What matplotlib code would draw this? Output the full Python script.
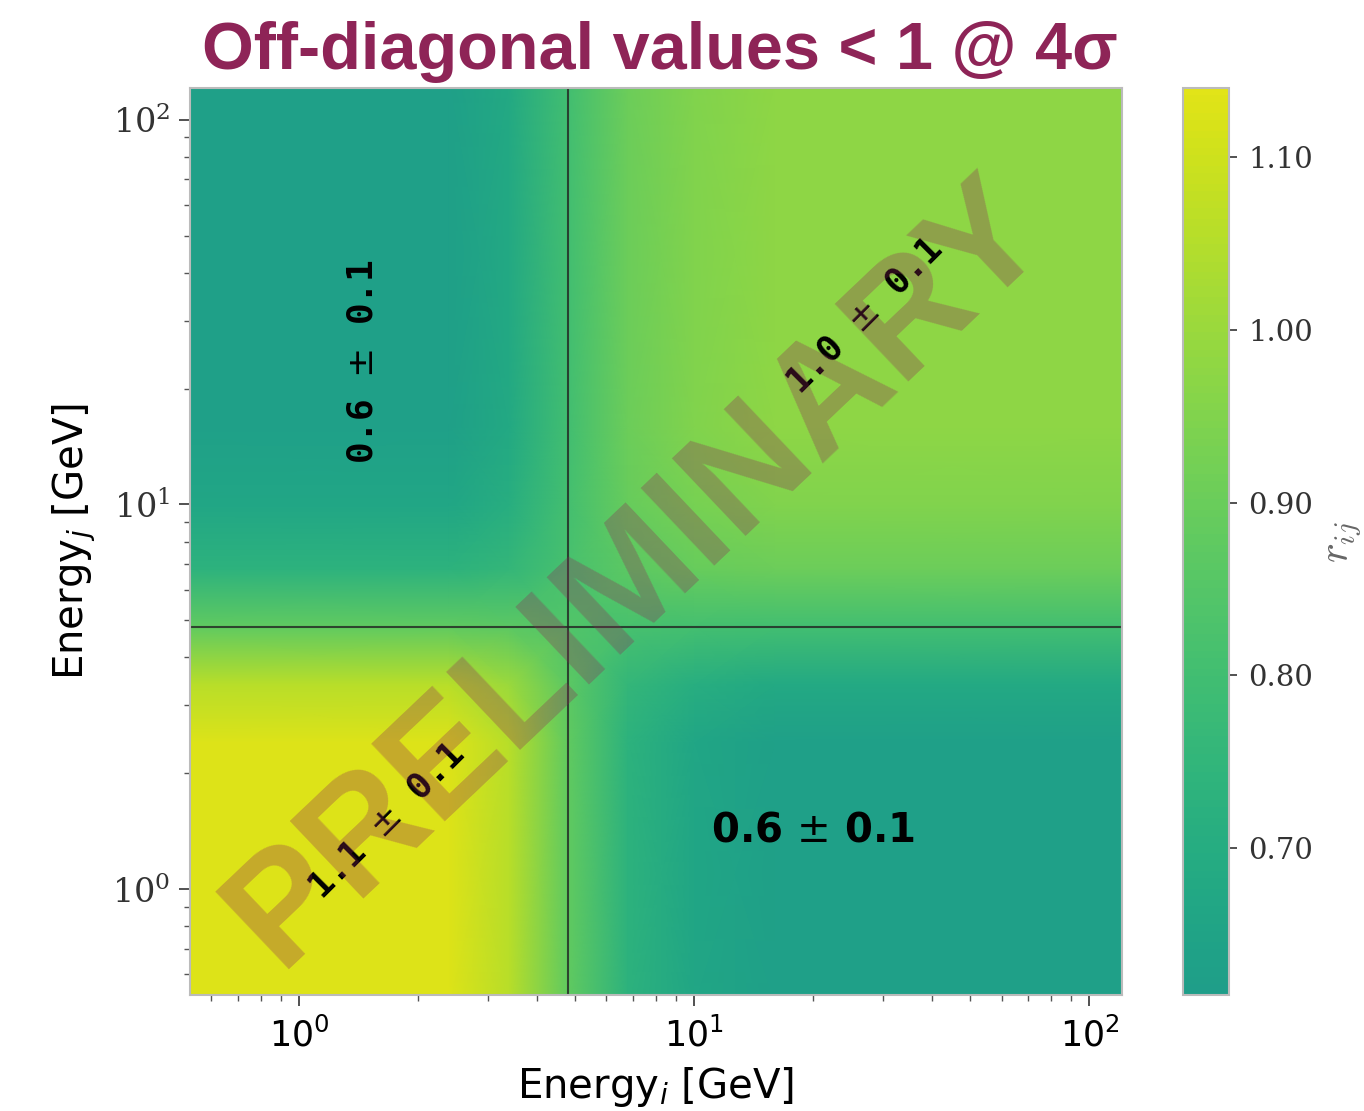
import matplotlib
matplotlib.use("Agg")
import matplotlib.pyplot as plt
import matplotlib.colors as mcolors
import numpy as np

# energy sample points (GeV), same on both axes
energy = [0.5, 2.4, 3.4, 4.8, 6.8, 10.0, 16.0, 126.0]

# r_ij, rows = Energy_j, columns = Energy_i
r_ij = [
    [1.130, 1.130, 1.055, 0.880, 0.730, 0.665, 0.630, 0.630],
    [1.130, 1.130, 1.055, 0.880, 0.730, 0.665, 0.630, 0.630],
    [1.055, 1.055, 0.999, 0.868, 0.756, 0.708, 0.682, 0.682],
    [0.880, 0.880, 0.868, 0.841, 0.818, 0.808, 0.803, 0.803],
    [0.730, 0.730, 0.757, 0.818, 0.871, 0.894, 0.906, 0.906],
    [0.665, 0.665, 0.708, 0.808, 0.894, 0.931, 0.951, 0.951],
    [0.630, 0.630, 0.682, 0.803, 0.906, 0.951, 0.975, 0.975],
    [0.630, 0.630, 0.682, 0.803, 0.906, 0.951, 0.975, 0.975],
]

split_energy = 4.8
quadrant_labels = [
    (1.45, 23.5, r"0.6 $\pm$ 0.1", 90),
    (20.0, 1.42, r"0.6 $\pm$ 0.1", 0),
    (27.0, 31.0, r"1.0 $\pm$ 0.1", 45),
    (1.67, 1.50, r"1.1 $\pm$ 0.1", 45),
]
cbar_ticks = [0.70, 0.80, 0.90, 1.00, 1.10]

title_color = "#8e2457"

# upper part of viridis only (teal -> yellow)
cmap = mcolors.LinearSegmentedColormap.from_list(
    "vir_top", plt.cm.viridis(np.linspace(0.555, 0.955, 256)))

fig = plt.figure(figsize=(13.64, 11.11), dpi=100)
ax = fig.add_axes([0.1393, 0.1044, 0.6833, 0.8164])
cax = fig.add_axes([0.8673, 0.1044, 0.0337, 0.8164])

E = np.array(energy)
Z = np.array(r_ij)
mesh = ax.pcolormesh(E, E, Z, shading="gouraud", cmap=cmap, vmin=0.615, vmax=1.14)
ax.set_xscale("log")
ax.set_yscale("log")
ax.set_xlim(0.53, 121)
ax.set_ylim(0.53, 121)

ax.axvline(split_energy, color="#222222", lw=1.5, alpha=0.8)
ax.axhline(split_energy, color="#222222", lw=1.5, alpha=0.8)

for x, y, s, rot in quadrant_labels:
    if rot == 0:
        ax.text(x, y, s, fontsize=29, fontweight="bold", ha="center", va="center")
    else:
        ax.text(x, y, s, fontsize=26, fontweight="bold", family="DejaVu Sans Mono",
                ha="center", va="center", rotation=rot)

# watermark
ax.text(0.48, 0.465, "PRELIMINARY", transform=ax.transAxes, fontsize=112,
        fontweight="bold", family=["Liberation Sans", "DejaVu Sans"],
        color=title_color, alpha=0.3, rotation=43.5, ha="center", va="center")

for sp in ax.spines.values():
    sp.set_color("#bbbbbb")
    sp.set_linewidth(1.5)
ax.tick_params(which="major", length=8, width=1.2, color="#333333")
ax.tick_params(which="minor", length=4, width=1.0, color="#555555")
ax.tick_params(axis="x", labelsize=25, pad=8)
ax.tick_params(axis="y", labelsize=24, pad=6)
for lab in ax.get_yticklabels():
    lab.set_family("DejaVu Serif")
    lab.set_color("#333333")

ax.set_xlabel(r"Energy$_i$ [GeV]", fontsize=29, labelpad=8)
ax.set_ylabel(r"Energy$_j$ [GeV]", fontsize=29, labelpad=10)

cb = fig.colorbar(mesh, cax=cax, ticks=cbar_ticks)
cb.outline.set_edgecolor("#bbbbbb")
cb.outline.set_linewidth(1.5)
cax.tick_params(labelsize=21, length=6, width=1.2, color="#333333", pad=8)
cax.set_yticklabels(["%.2f" % t for t in cbar_ticks], family="DejaVu Serif",
                    color="#333333")
cb.set_label(r"$r_{ij}$", fontsize=30, color="#666666", labelpad=6,
             math_fontfamily="cm")

fig.text(0.484, 0.953, "Off-diagonal values < 1 @ 4σ", ha="center", va="center",
         fontsize=48, fontweight="bold", color=title_color,
         family=["Liberation Sans", "DejaVu Sans"])

fig.savefig("out.png", dpi=100)
